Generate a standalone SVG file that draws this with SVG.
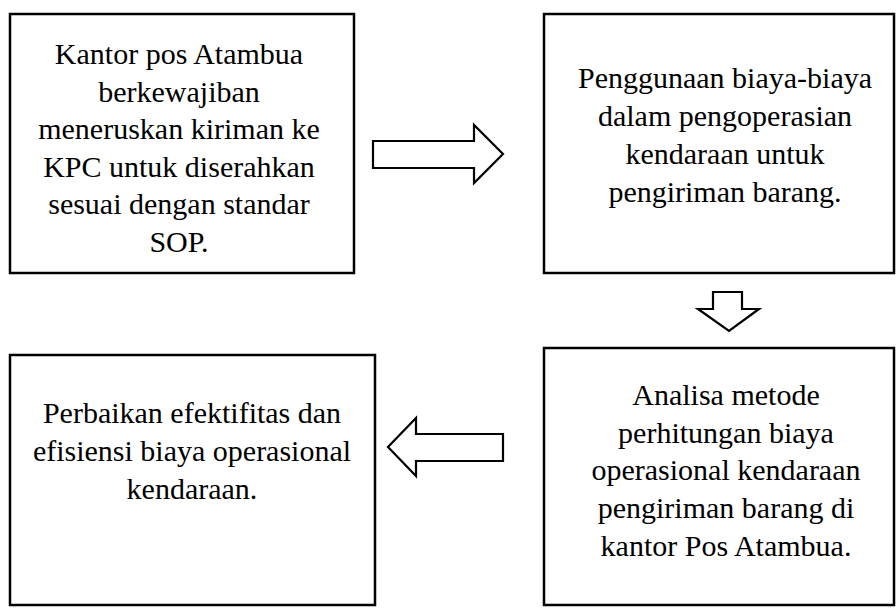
<svg xmlns="http://www.w3.org/2000/svg" width="896" height="608" viewBox="0 0 896 608">
<style>
.box{fill:#fff;stroke:#000;stroke-width:2.5}
.arr{fill:#fff;stroke:#000;stroke-width:2.2;stroke-linejoin:miter}
.t{font-family:'Liberation Serif','Times New Roman',serif;font-size:30px;fill:#000;text-anchor:middle}
</style>
<rect width="896" height="608" fill="#fff"/>
<g id="n1" class="t" font-family="Liberation Serif, serif">
<rect class="box" x="10" y="14" width="344" height="259"/>
<text x="179" y="64">Kantor pos Atambua</text>
<text x="179" y="101.5">berkewajiban</text>
<text x="179" y="139">meneruskan kiriman ke</text>
<text x="179" y="176.5">KPC untuk diserahkan</text>
<text x="179" y="214">sesuai dengan standar</text>
<text x="179" y="251.5">SOP.</text>
</g>
<g id="n2" class="t" font-family="Liberation Serif, serif">
<rect class="box" x="544" y="14" width="350" height="259"/>
<text x="725" y="88">Penggunaan biaya-biaya</text>
<text x="725" y="126">dalam pengoperasian</text>
<text x="725" y="164">kendaraan untuk</text>
<text x="725" y="202">pengiriman barang.</text>
</g>
<g id="n3" class="t" font-family="Liberation Serif, serif">
<rect class="box" x="544" y="348" width="350" height="257"/>
<text x="726" y="405">Analisa metode</text>
<text x="726" y="443">perhitungan biaya</text>
<text x="726" y="480">operasional kendaraan</text>
<text x="726" y="518">pengiriman barang di</text>
<text x="726" y="556">kantor Pos Atambua.</text>
</g>
<g id="n4" class="t" font-family="Liberation Serif, serif">
<rect class="box" x="10" y="355" width="365" height="250"/>
<text x="192" y="423">Perbaikan efektifitas dan</text>
<text x="192" y="461">efisiensi biaya operasional</text>
<text x="192" y="499">kendaraan.</text>
</g>
<g id="connectors">
<polygon class="arr" points="373,141 474,141 474,125 503,154 474,183 474,168 373,168"/>
<polygon class="arr" points="713,292 742,292 742,309 759,309 729,331 698,309 713,309"/>
<polygon class="arr" points="503,434 416,434 416,418 388,447 416,476 416,461 503,461"/>
</g>
</svg>
